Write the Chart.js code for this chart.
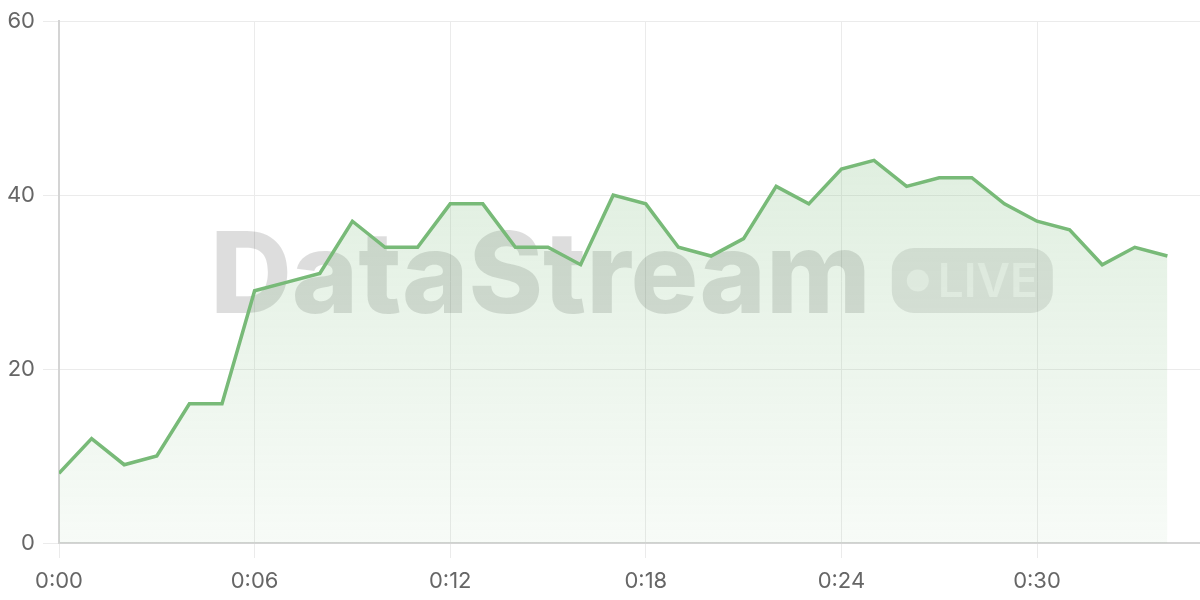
<!DOCTYPE html>
<html>
<head>
<meta charset="utf-8">
<script src="https://cdn.jsdelivr.net/npm/chart.js@4/dist/chart.umd.min.js"></script>
<style>
  html, body { margin: 0; padding: 0; background: #ffffff; }
  #wrap { width: 1200px; height: 600px; position: relative; }
  canvas { display: block; }
</style>
</head>
<body>
<div id="wrap"><canvas id="c" width="1200" height="600"></canvas></div>
<script>
// ---- data ----
const seconds = [0,1,2,3,4,5,6,7,8,9,10,11,12,13,14,15,16,17,18,19,20,21,22,23,24,25,26,27,28,29,30,31,32,33,34];
const values  = [8,12,9,10,16,16,29,30,31,37,34,34,39,39,34,34,32,40,39,34,33,35,41,39,43,44,41,42,42,39,37,36,32,34,33];
const xTickValues = [0,6,12,18,24,30];
const xTickLabels = ['0:00','0:06','0:12','0:18','0:24','0:30'];
const yTickValues = [0,20,40,60];
const watermarkText = 'DataStream';
const badgeText = 'LIVE';

const points = seconds.map((s, i) => ({ x: s, y: values[i] }));

const watermark = {
  id: 'watermark',
  beforeDatasetsDraw(chart) {
    const { ctx, chartArea: a } = chart;
    ctx.save();
    ctx.font = '800 113px Inter, "Noto Sans", sans-serif';
    ctx.textBaseline = 'alphabetic';
    ctx.textAlign = 'left';
    const tw = ctx.measureText(watermarkText).width;
    const badgeW = 161, gap = 21;
    const total = tw + gap + badgeW;
    const cx = (a.left + a.right) / 2 + 2;
    const x0 = cx - total / 2;
    const base = 313;
    ctx.fillStyle = 'rgba(0,0,0,0.135)';
    ctx.fillText(watermarkText, x0, base);
    // badge
    const bx = x0 + tw + gap, by = 248, bh = 65, r = 22;
    ctx.beginPath();
    ctx.roundRect(bx, by, badgeW, bh, r);
    ctx.fillStyle = 'rgba(0,0,0,0.10)';
    ctx.fill();
    ctx.fillStyle = 'rgba(255,255,255,0.55)';
    ctx.beginPath();
    ctx.arc(bx + 26, by + bh / 2, 11, 0, Math.PI * 2);
    ctx.fill();
    ctx.font = '600 46px Inter, "Noto Sans", sans-serif';
    ctx.fillText(badgeText, bx + 46, by + 49);
    ctx.restore();
  }
};

const ctx = document.getElementById('c').getContext('2d');
new Chart(ctx, {
  type: 'line',
  data: {
    datasets: [{
      data: points,
      borderColor: '#78ba78',
      borderWidth: 3.5,
      pointRadius: 0,
      tension: 0,
      fill: 'origin',
      backgroundColor: (c) => {
        const a = c.chart.chartArea;
        if (!a) return 'rgba(124,187,124,0.15)';
        const g = c.chart.ctx.createLinearGradient(0, a.top, 0, a.bottom);
        g.addColorStop(0, 'rgba(124,187,124,0.30)');
        g.addColorStop(1, 'rgba(124,187,124,0.06)');
        return g;
      }
    }]
  },
  options: {
    responsive: false,
    animation: false,
    devicePixelRatio: 1,
    layout: { padding: { top: 20, right: 0, left: 0, bottom: 0 } },
    plugins: { legend: { display: false }, tooltip: { enabled: false } },
    scales: {
      x: {
        type: 'linear',
        min: 0,
        max: 35,
        afterBuildTicks(scale) { scale.ticks = xTickValues.map(v => ({ value: v })); },
        afterFit(scale) { scale.height = 57; },
        grid: { color: '#ebebeb', lineWidth: 1, tickLength: 15, drawTicks: true },
        border: { color: '#d4d4d4', width: 2 },
        ticks: {
          color: '#666666',
          font: { family: 'Inter, "Noto Sans", sans-serif', size: 22 },
          padding: 10,
          maxRotation: 0,
          callback: (v) => xTickLabels[xTickValues.indexOf(v)]
        }
      },
      y: {
        min: 0,
        max: 60,
        afterBuildTicks(scale) { scale.ticks = yTickValues.map(v => ({ value: v })); },
        afterFit(scale) { scale.width = 59; },
        grid: { color: '#ebebeb', lineWidth: 1, tickLength: 16 },
        border: { color: '#d4d4d4', width: 2 },
        ticks: {
          color: '#666666',
          font: { family: 'Inter, "Noto Sans", sans-serif', size: 22 },
          padding: 8
        }
      }
    }
  },
  plugins: [watermark]
});
</script>
</body>
</html>
